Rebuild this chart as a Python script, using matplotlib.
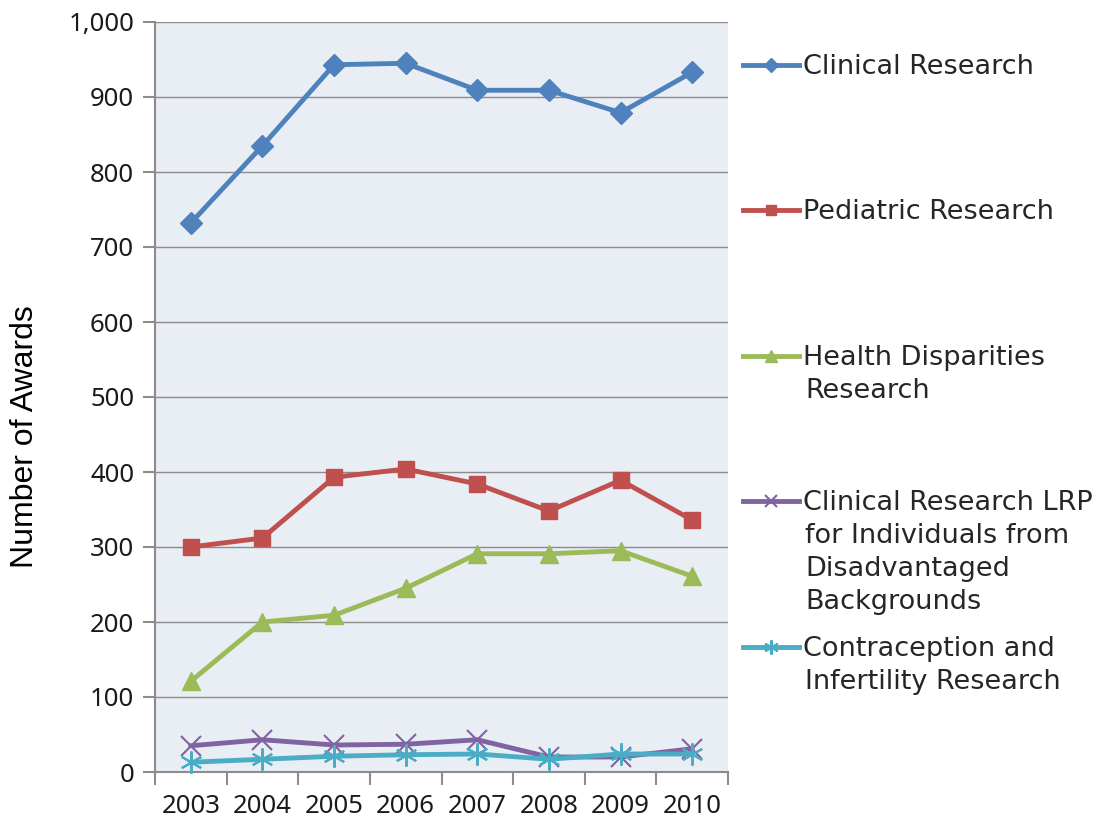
import numpy as np
import matplotlib
matplotlib.use("Agg")
import matplotlib.pyplot as plt
from matplotlib.ticker import FuncFormatter, MultipleLocator, FixedLocator

years = ["2003", "2004", "2005", "2006", "2007", "2008", "2009", "2010"]
clinical = [732, 835, 943, 945, 909, 909, 879, 933]
pediatric = [300, 312, 393, 404, 384, 348, 389, 336]
health = [121, 200, 209, 245, 291, 291, 295, 261]
lrp = [35, 43, 36, 37, 43, 20, 20, 31]
contraception = [13, 17, 21, 23, 24, 17, 24, 24]

series = [
    (clinical, ["Clinical Research"], "#4F81BD", "D", 11),
    (pediatric, ["Pediatric Research"], "#C0504D", "s", 12),
    (health, ["Health Disparities", "Research"], "#9BBB59", "^", 13),
    (lrp, ["Clinical Research LRP", "for Individuals from",
           "Disadvantaged", "Backgrounds"], "#8064A2", "x", 14),
    (contraception, ["Contraception and", "Infertility Research"], "#4BACC6", (6, 2, 0), 16),
]
# legend first-line y positions (pixels from top)
legend_y = [67, 212, 358, 503, 649]

W, H = 1098, 818
fig = plt.figure(figsize=(W / 100, H / 100), dpi=100)
ax = fig.add_axes([155 / W, 1 - 772 / H, (728 - 155) / W, (772 - 22) / H])
ax.set_facecolor("#E9EDF4")

x = np.arange(len(years))
handles = []
for vals, label, color, marker, ms in series:
    mew = 1.5 if marker in ("x",) or isinstance(marker, tuple) else 1
    h, = ax.plot(x, vals, color=color, lw=3.5, marker=marker, ms=ms,
                 mec=color, mfc=color, mew=mew, zorder=3, clip_on=False)
    handles.append(h)

ax.set_xlim(-0.5, len(years) - 0.5)
ax.set_ylim(0, 1000)
ax.yaxis.set_major_locator(MultipleLocator(100))
ax.yaxis.set_major_formatter(FuncFormatter(lambda v, p: f"{int(v):,}"))
ax.grid(axis="y", color="#8C8C8C", lw=1.0, zorder=0)
ax.set_axisbelow(True)

ax.xaxis.set_major_locator(FixedLocator(np.arange(-0.5, len(years), 1.0)))
ax.xaxis.set_major_formatter(FuncFormatter(lambda v, p: ""))
ax.set_xticks(x, years, minor=True)
ax.tick_params(axis="x", which="major", length=9, width=1.5, color="#8C8C8C", direction="out")
ax.tick_params(axis="x", which="minor", length=0, pad=16, labelsize=18.5, labelcolor="#1a1a1a")
ax.tick_params(axis="y", length=9, width=1.5, color="#8C8C8C", direction="out",
               labelsize=18.5, labelcolor="#1a1a1a", pad=6)
for lab in ax.get_xticklabels(minor=True) + ax.get_yticklabels():
    lab.set_fontfamily("Noto Sans")

for s in ["top", "right"]:
    ax.spines[s].set_visible(False)
for s in ["left", "bottom"]:
    ax.spines[s].set_color("#8C8C8C")
    ax.spines[s].set_linewidth(1.5)

fig.text(25 / W, 1 - 437 / H, "Number of Awards", rotation=90, ha="center", va="center",
         fontsize=23, family="Liberation Sans", color="#000000")

# legend: one entry per series, continuation lines as text
text_x = 805 / W
line_h = 33
for h, (vals, label, color, marker, ms), ly in zip(handles, series, legend_y):
    fig.legend([h], [label[0]], loc="center left", bbox_to_anchor=(743 / W, 1 - ly / H),
               frameon=False, handlelength=2.05, handletextpad=0.15, borderpad=0,
               borderaxespad=0, prop={"family": "DejaVu Sans", "size": 19.5},
               labelcolor="#262626", markerscale=0.65)
    for i, extra in enumerate(label[1:], start=1):
        fig.text(text_x, 1 - (ly + i * line_h) / H, extra, ha="left", va="center",
                 fontsize=19.5, family="DejaVu Sans", color="#262626")

fig.savefig("out.png", dpi=100)
